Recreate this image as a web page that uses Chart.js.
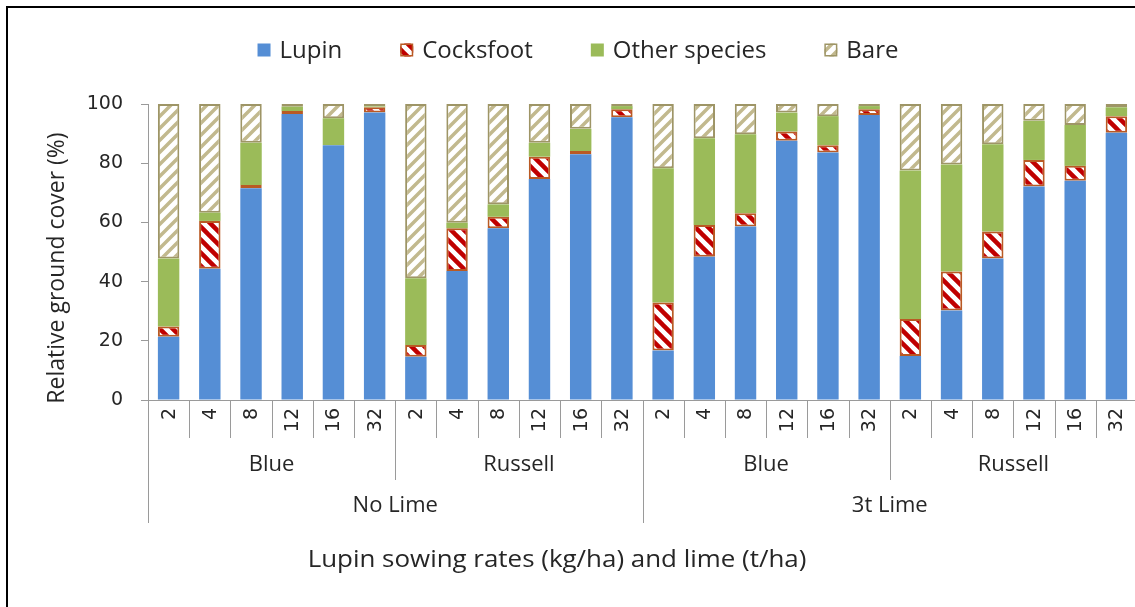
<!DOCTYPE html>
<html>
<head>
<meta charset="utf-8">
<script src="https://cdn.jsdelivr.net/npm/chart.js@4/dist/chart.umd.min.js"></script>
<style>
  html, body { margin: 0; padding: 0; overflow: hidden; background: #fff; width: 1135px; height: 607px; }
  #wrap { position: absolute; left: 0; top: 0; width: 1150px; height: 607px; }
  #frame { position: absolute; left: 6px; top: 6px; width: 1160px; height: 640px;
           border-left: 2px solid #000; border-top: 2px solid #000; pointer-events: none; }
</style>
</head>
<body>
<div id="wrap"><canvas id="c" width="1150" height="607"></canvas></div>
<div id="frame"></div>
<script>
// ---- data ----
const rates = ['2', '4', '8', '12', '16', '32'];
const cultivars = ['Blue', 'Russell'];
const limeLevels = ['No Lime', '3t Lime'];
const seriesNames = ['Lupin', 'Cocksfoot', 'Other species', 'Bare'];
const yTicks = [0, 20, 40, 60, 80, 100];

const lupin = [21.4, 44.3, 71.5, 96.6, 86.1, 97.1, 14.6, 43.6, 58.0, 74.7, 83.0, 95.5,
               16.7, 48.4, 58.6, 87.6, 83.6, 96.3, 14.9, 30.2, 47.8, 72.1, 74.1, 90.3];
const cocksfoot = [3.4, 16.2, 1.1, 1.0, 0.0, 1.8, 4.0, 14.4, 3.9, 7.5, 1.1, 2.7,
                   16.2, 10.7, 4.5, 3.1, 2.5, 1.9, 12.5, 13.2, 9.1, 9.0, 5.0, 5.6];
const otherSpecies = [23.0, 2.8, 14.3, 1.5, 9.1, 0.3, 22.5, 1.9, 4.2, 4.7, 7.5, 1.1,
                      45.4, 29.3, 26.7, 6.4, 9.8, 1.1, 50.1, 36.2, 29.5, 13.2, 13.8, 3.0];
const bare = [52.2, 36.7, 13.1, 0.9, 4.8, 0.8, 58.9, 40.1, 33.9, 13.1, 8.4, 0.7,
              21.7, 11.6, 10.2, 2.9, 4.1, 0.7, 22.5, 20.4, 13.6, 5.7, 7.1, 1.1];

// categories built from the three label levels
const categories = [];
limeLevels.forEach(l => cultivars.forEach(c => rates.forEach(r => categories.push([r, c, l]))));

// ---- styles ----
function stripes(fg, s, lw, dir) {
  const cv = document.createElement('canvas');
  cv.width = s; cv.height = s;
  const g = cv.getContext('2d');
  g.fillStyle = '#ffffff'; g.fillRect(0, 0, s, s);
  g.strokeStyle = fg; g.lineWidth = lw; g.lineCap = 'square';
  g.beginPath();
  for (const k of [-s, 0, s]) {
    if (dir === 'down') { g.moveTo(k, 0); g.lineTo(k + s, s); }
    else { g.moveTo(k, s); g.lineTo(k + s, 0); }
  }
  g.stroke();
  return document.getElementById('c').getContext('2d').createPattern(cv, 'repeat');
}
const cockFill = stripes('#C00000', 13, 4.5, 'down');
const bareFill = stripes('#C2B98E', 12, 3.5, 'up');

const FONT_SANS = '"Open Sans", "Liberation Sans", sans-serif';
const FONT_NUM = '"DejaVu Sans", Verdana, sans-serif';

const datasets = [
  { label: seriesNames[0], data: lupin, backgroundColor: '#558ED5', borderWidth: 0 },
  { label: seriesNames[1], data: cocksfoot, backgroundColor: cockFill, borderColor: '#B95A24', borderWidth: 2 },
  { label: seriesNames[2], data: otherSpecies, backgroundColor: '#9BBB59', borderWidth: 0 },
  { label: seriesNames[3], data: bare, backgroundColor: bareFill, borderColor: '#9E9566', borderWidth: 2 }
].map(d => Object.assign(d, { barPercentage: 0.52, categoryPercentage: 1.0, borderSkipped: false }));

const AXIS_GRAY = '#9A9A9A';

const decor = {
  id: 'decor',
  afterDraw(chart) {
    const ctx = chart.ctx;
    const x = chart.scales.x, y = chart.scales.y;
    const n = categories.length;
    const centers = categories.map((_, i) => x.getPixelForValue(i));
    const bounds = [x.left];
    for (let i = 1; i < n; i++) bounds.push((centers[i - 1] + centers[i]) / 2);
    bounds.push(x.right);
    const base = y.getPixelForValue(0);
    const lvl1 = base + 38, lvl2 = base + 80, lvl3 = base + 123;

    ctx.save();
    // separators
    ctx.strokeStyle = AXIS_GRAY; ctx.lineWidth = 1;
    ctx.beginPath();
    bounds.forEach((bx, i) => {
      let bottom = lvl1;
      if (i % (rates.length * cultivars.length) === 0) bottom = lvl3;
      else if (i % rates.length === 0) bottom = lvl2;
      const px = Math.round(bx) + 0.5;
      ctx.moveTo(px, base); ctx.lineTo(px, bottom);
    });
    ctx.stroke();

    // level 1: rates (rotated)
    ctx.fillStyle = '#262626';
    ctx.font = '19px ' + FONT_NUM;
    ctx.textAlign = 'right'; ctx.textBaseline = 'middle';
    categories.forEach((cat, i) => {
      ctx.save();
      ctx.translate(centers[i] + 1, base + 8);
      ctx.rotate(-Math.PI / 2);
      ctx.fillText(cat[0], 0, 0);
      ctx.restore();
    });

    // level 2: cultivars
    ctx.font = '22px ' + FONT_SANS;
    ctx.textAlign = 'center';
    const g2 = rates.length;
    for (let gi = 0; gi < n / g2; gi++) {
      const cx = (bounds[gi * g2] + bounds[(gi + 1) * g2]) / 2;
      ctx.fillText(categories[gi * g2][1], cx, base + 65);
    }
    // level 3: lime
    const g3 = rates.length * cultivars.length;
    for (let gi = 0; gi < n / g3; gi++) {
      const cx = (bounds[gi * g3] + bounds[(gi + 1) * g3]) / 2;
      ctx.fillText(categories[gi * g3][2], cx, base + 106);
    }

    // axis titles
    ctx.save();
    ctx.translate(557, 560);
    ctx.scale(1.08, 1);
    ctx.font = '24px ' + FONT_SANS;
    ctx.fillText('Lupin sowing rates (kg/ha) and lime (t/ha)', 0, 0);
    ctx.restore();
    ctx.save();
    ctx.translate(57, 268);
    ctx.rotate(-Math.PI / 2);
    ctx.font = '23px ' + FONT_SANS;
    ctx.fillText('Relative ground cover (%)', 0, 0);
    ctx.restore();

    // legend
    ctx.font = '24px ' + FONT_SANS;
    const box = 13, gapBoxText = 9, gapItems = 58;
    const widths = chart.data.datasets.map(d => ctx.measureText(d.label).width);
    const total = widths.reduce((a, w) => a + box + gapBoxText + w, 0) + gapItems * (widths.length - 1);
    let lx = 578 - total / 2;
    const ly = 50;
    ctx.textAlign = 'left';
    chart.data.datasets.forEach((d, i) => {
      ctx.fillStyle = d.backgroundColor;
      ctx.fillRect(lx, ly - box / 2, box, box);
      if (d.borderWidth) {
        ctx.strokeStyle = d.borderColor; ctx.lineWidth = 1.5;
        ctx.strokeRect(lx + 0.75, ly - box / 2 + 0.75, box - 1.5, box - 1.5);
      }
      ctx.fillStyle = '#262626';
      ctx.fillText(d.label, lx + box + gapBoxText, ly + 1);
      lx += box + gapBoxText + widths[i] + gapItems;
    });
    ctx.restore();
  }
};

new Chart(document.getElementById('c'), {
  type: 'bar',
  data: { labels: categories, datasets },
  options: {
    responsive: false,
    animation: false,
    layout: { padding: { left: 0, top: 104, right: 13, bottom: 84 } },
    plugins: { legend: { display: false }, tooltip: { enabled: false } },
    scales: {
      x: {
        stacked: true,
        grid: { display: false },
        border: { display: true, color: AXIS_GRAY, width: 1 },
        ticks: { display: false },
        afterFit(s) { s.height = 123; }
      },
      y: {
        stacked: true,
        min: 0, max: 100,
        afterBuildTicks(s) { s.ticks = yTicks.map(v => ({ value: v })); },
        grid: { display: true, drawOnChartArea: false, drawTicks: true, tickLength: 7, color: AXIS_GRAY },
        border: { display: true, color: AXIS_GRAY, width: 1 },
        ticks: { color: '#262626', font: { family: FONT_NUM, size: 19 }, padding: 18 },
        afterFit(s) { s.width = 148; }
      }
    }
  },
  plugins: [decor]
});
</script>
</body>
</html>
